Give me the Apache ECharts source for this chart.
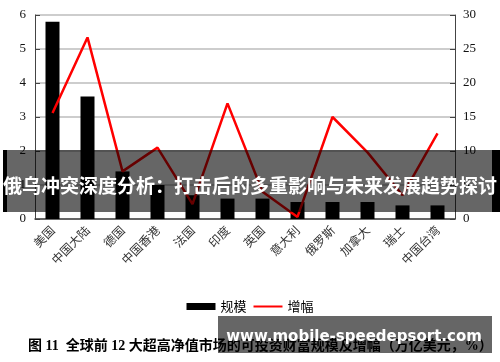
<!DOCTYPE html>
<html>
<head>
<meta charset="utf-8">
<script src="https://cdn.jsdelivr.net/npm/echarts@6/dist/echarts.min.js"></script>
<style>html,body{margin:0;padding:0;background:#fff;}#c{width:500px;height:362px;}</style>
</head>
<body>
<div id="c"></div>
<script>
var categories = ['美国','中国大陆','德国','中国香港','法国','印度','英国','意大利','俄罗斯','加拿大','瑞士','中国台湾'];
var scaleValues = [5.8, 3.6, 1.4, 1.0, 0.7, 0.6, 0.6, 0.5, 0.5, 0.5, 0.4, 0.4];
var growthValues = [15.6, 26.7, 7.0, 10.5, 2.2, 17.0, 4.0, 0.3, 15.0, 9.8, 3.5, 12.6];
var leftTicks = [0, 6, 1];
var rightTicks = [0, 30, 5];
var seriesNames = ['规模', '增幅'];
var bannerText = '俄乌冲突深度分析：打击后的多重影响与未来发展趋势探讨';
var captionText = '图 11  全球前 12 大超高净值市场的可投资财富规模及增幅（万亿美元，%）';
var watermarkText = 'www.mobile-speedepsort.com';

var chart = echarts.init(document.getElementById('c'), null, {renderer: 'canvas'});
var serif = '"Liberation Serif", "DejaVu Serif", serif';
var cjk = '"Noto Sans CJK SC", sans-serif';
chart.setOption({
  animation: false,
  grid: {left: 35, right: 45, top: 15, bottom: 143},
  legend: {
    data: [
      {name: seriesNames[0], icon: 'rect'},
      {name: seriesNames[1], itemStyle: {opacity: 0}}
    ],
    top: 295, left: 'center',
    itemWidth: 29, itemHeight: 7, itemGap: 6,
    textStyle: {fontFamily: cjk, fontSize: 13, color: '#000'}
  },
  xAxis: {
    type: 'category',
    data: categories,
    axisLine: {lineStyle: {color: '#444', width: 1.5}},
    axisTick: {inside: true, length: 5, lineStyle: {color: '#444'}},
    axisLabel: {rotate: 45, fontFamily: cjk, fontSize: 12, color: '#333', margin: 9, interval: 0}
  },
  yAxis: [{
    type: 'value', min: leftTicks[0], max: leftTicks[1], interval: leftTicks[2],
    axisLine: {show: true, lineStyle: {color: '#444', width: 1}},
    axisTick: {show: true, inside: true, length: 5, lineStyle: {color: '#444'}},
    splitLine: {lineStyle: {color: '#bdbdbd', width: 1.5}},
    axisLabel: {fontFamily: serif, fontSize: 13, color: '#111', margin: 9}
  }, {
    type: 'value', min: rightTicks[0], max: rightTicks[1], interval: rightTicks[2],
    axisLine: {show: true, lineStyle: {color: '#444', width: 1}},
    axisTick: {show: true, inside: true, length: 5, lineStyle: {color: '#444'}},
    splitLine: {show: false},
    axisLabel: {fontFamily: serif, fontSize: 13, color: '#111', margin: 8}
  }],
  series: [{
    name: seriesNames[0], type: 'bar', yAxisIndex: 0, data: scaleValues,
    barWidth: '40%', itemStyle: {color: '#000'}
  }, {
    name: seriesNames[1], type: 'line', yAxisIndex: 1, data: growthValues,
    symbol: 'none', lineStyle: {color: '#ff0000', width: 2.5}, itemStyle: {color: '#ff0000'}
  }],
  graphic: [
    {type: 'text', left: 28, top: 339, z: 50,
     style: {text: captionText, fontFamily: '"Liberation Serif", "Noto Sans CJK SC", serif', fontWeight: 'bold', fontSize: 14, fill: '#000'}},
    {type: 'rect', shape: {x: 3, y: 150, width: 497, height: 62}, z: 100, style: {fill: 'rgba(0,0,0,0.6)'}},
    {type: 'rect', shape: {x: 3, y: 150, width: 4, height: 62}, z: 101, style: {fill: '#000'}},
    {type: 'rect', shape: {x: 492, y: 150, width: 8, height: 62}, z: 101, style: {fill: '#000'}},
    {type: 'text', x: 3, y: 186, z: 102,
     style: {text: bannerText, fontFamily: cjk, fontWeight: 'bold', fontSize: 19, fill: '#fff', textVerticalAlign: 'middle'}},
    {type: 'rect', shape: {x: 218, y: 316, width: 274, height: 37}, z: 100, style: {fill: 'rgba(0,0,0,0.6)'}},
    {type: 'text', x: 354, y: 337, z: 102,
     style: {text: watermarkText, fontFamily: '"DejaVu Sans", sans-serif', fontWeight: 'bold', fontSize: 15, fill: '#fff', textAlign: 'center', textVerticalAlign: 'middle'}}
  ]
});
</script>
</body>
</html>
